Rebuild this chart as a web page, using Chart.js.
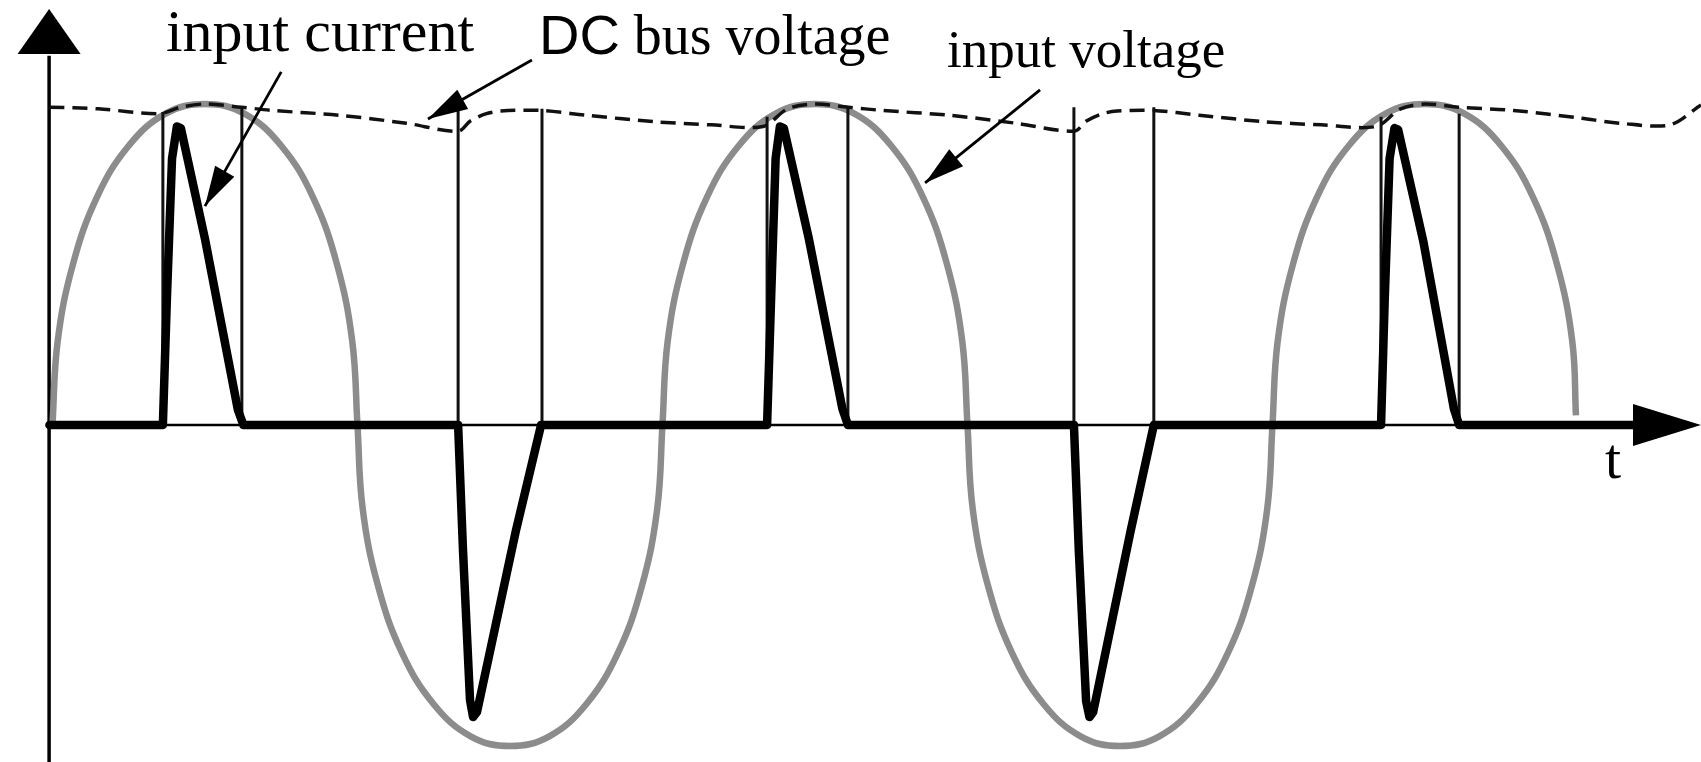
<!DOCTYPE html>
<html>
<head>
<meta charset="utf-8">
<title>Input current, input voltage and DC bus voltage</title>
<script src="https://cdn.jsdelivr.net/npm/chart.js@4.4.1/dist/chart.umd.min.js"></script>
<style>
    html, body { margin: 0; padding: 0; background: #ffffff; }
    #wrap { position: relative; width: 1701px; height: 762px; }
</style>
</head>
<body>
<div id="wrap"><canvas id="waveChart"></canvas></div>
<script>
// time in ms (20 ms mains period), amplitude relative to the input voltage peak
const voltageTime = [
    0, 0.17, 0.67, 1.46, 2.5, 3.71, 5, 6.29, 7.5, 8.54, 9.33, 9.83,
    10, 10.17, 10.67, 11.46, 12.5, 13.71, 15, 16.29, 17.5, 18.54, 19.33, 19.83,
    20, 20.17, 20.67, 21.46, 22.5, 23.71, 25, 26.29, 27.5, 28.54, 29.33, 29.83,
    30, 30.17, 30.67, 31.46, 32.5, 33.71, 35, 36.29, 37.5, 38.54, 39.33, 39.83,
    40, 40.17, 40.67, 41.46, 42.5, 43.71, 45, 46.29, 47.5, 48.54, 49.33, 49.83, 49.95
];
const voltageValue = [
    0, 0.26, 0.5, 0.71, 0.87, 0.97, 1, 0.97, 0.87, 0.71, 0.5, 0.26,
    0, -0.26, -0.5, -0.71, -0.87, -0.97, -1, -0.97, -0.87, -0.71, -0.5, -0.26,
    0, 0.26, 0.5, 0.71, 0.87, 0.97, 1, 0.97, 0.87, 0.71, 0.5, 0.26,
    0, -0.26, -0.5, -0.71, -0.87, -0.97, -1, -0.97, -0.87, -0.71, -0.5, -0.26,
    0, 0.26, 0.5, 0.71, 0.87, 0.97, 1, 0.97, 0.87, 0.71, 0.5, 0.26, 0.03
];

const currentTime = [
    -0.1,
    3.62, 3.75, 3.92, 4.08, 4.21, 5.0, 6.08, 6.26,
    13.3, 13.46, 13.69, 13.79, 13.92, 15.2, 16.02,
    23.43, 23.56, 23.71, 23.85, 23.98, 24.8, 25.9, 26.08,
    33.49, 33.65, 33.89, 34.0, 34.12, 35.35, 36.11,
    43.56, 43.68, 43.84, 44.0, 44.12, 44.95, 45.95, 46.12,
    51.82
];
const currentValue = [
    0,
    0, 0.39, 0.83, 0.93, 0.925, 0.58, 0.047, 0,
    0, -0.39, -0.857, -0.91, -0.894, -0.327, 0,
    0, 0.39, 0.83, 0.93, 0.925, 0.58, 0.05, 0,
    0, -0.39, -0.86, -0.91, -0.895, -0.33, 0,
    0, 0.39, 0.83, 0.925, 0.92, 0.57, 0.05, 0,
    0
];

const busTime = [
    -0.1, 1.5, 3.5, 4.2, 5.0, 6.2, 7.2, 9.4, 11.6, 13.3, 13.7, 14.2, 14.7, 16.0,
    17.5, 19.7, 21.6, 23.3, 24.1, 25.0, 26.1, 27.2, 29.4, 31.6, 33.5, 33.9, 34.4, 34.9, 36.1,
    37.6, 39.7, 41.6, 43.4, 44.2, 45.0, 46.1, 47.9, 50.1, 51.4, 53.03, 54.05
];
const busValue = [
    0.99, 0.985, 0.97, 0.99, 1.0, 0.99, 0.98, 0.965, 0.94, 0.915, 0.947, 0.969, 0.978, 0.98,
    0.965, 0.945, 0.935, 0.93, 0.985, 1.0, 0.99, 0.98, 0.965, 0.94, 0.915, 0.947, 0.969, 0.978, 0.98,
    0.965, 0.945, 0.935, 0.93, 0.985, 1.0, 0.99, 0.98, 0.956, 0.94, 0.935, 0.997
];

// conduction interval edges (thin vertical lines) and how high each reaches
const edgeTime = [3.62, 6.21, 13.3, 16.05, 23.43, 26.08, 33.49, 36.11, 43.56, 46.12];
const edgeTop = [0.975, 0.99, 0.99, 0.985, 0.96, 0.99, 0.99, 0.99, 0.96, 0.97];

const axisLabel = "t";

const serif = "'Liberation Serif', 'Times New Roman', serif";
const sans = "'Liberation Sans', Arial, sans-serif";

// callout texts with their leader arrows, positioned in data units
const callouts = [
    {
        parts: [{ text: "input current", font: `60px ${serif}` }],
        at: [3.72, 1.165],
        from: [7.5, 1.1],
        to: [5.0, 0.682]
    },
    {
        parts: [
            { text: "DC", font: `56px ${sans}` },
            { text: " bus voltage", font: `56px ${serif}` }
        ],
        at: [15.95, 1.156],
        from: [15.72, 1.137],
        to: [12.31, 0.953]
    },
    {
        parts: [{ text: "input voltage", font: `53px ${serif}` }],
        at: [29.33, 1.115],
        from: [32.38, 1.044],
        to: [28.61, 0.754]
    }
];

const toPoints = (xs, ys) => xs.map((x, i) => ({ x, y: ys[i] }));

const edgePoints = [];
edgeTime.forEach((t, i) => {
    edgePoints.push({ x: t, y: 0 }, { x: t, y: edgeTop[i] }, { x: t, y: null });
});

function arrowHead(ctx, x1, y1, x2, y2, len, half) {
    const a = Math.atan2(y2 - y1, x2 - x1);
    const bx = x2 - len * Math.cos(a);
    const by = y2 - len * Math.sin(a);
    ctx.beginPath();
    ctx.moveTo(x2, y2);
    ctx.lineTo(bx + half * Math.sin(a), by - half * Math.cos(a));
    ctx.lineTo(bx - half * Math.sin(a), by + half * Math.cos(a));
    ctx.closePath();
    ctx.fill();
}

const sketchAxes = {
    id: "sketchAxes",
    beforeDatasetsDraw(chart) {
        const { ctx, scales: { x, y } } = chart;
        const ox = x.getPixelForValue(-0.11);
        const oy = y.getPixelForValue(0);
        ctx.save();
        ctx.strokeStyle = "#000";
        ctx.fillStyle = "#000";

        // time axis
        ctx.lineWidth = 2.5;
        ctx.beginPath();
        ctx.moveTo(ox, oy);
        ctx.lineTo(x.getPixelForValue(51.9), oy);
        ctx.stroke();
        arrowHead(ctx, ox, oy, x.getPixelForValue(54.05), oy, 68, 21);

        // vertical axis
        ctx.lineWidth = 3.5;
        ctx.beginPath();
        ctx.moveTo(ox, y.getPixelForValue(-1.05));
        ctx.lineTo(ox, y.getPixelForValue(1.15));
        ctx.stroke();
        arrowHead(ctx, ox, oy, ox, y.getPixelForValue(1.296), 45, 31.5);
        ctx.restore();
    },
    afterDatasetsDraw(chart) {
        const { ctx, scales: { x, y } } = chart;
        ctx.save();
        ctx.fillStyle = "#000";
        ctx.strokeStyle = "#000";
        ctx.textBaseline = "alphabetic";
        ctx.textAlign = "left";

        callouts.forEach((c) => {
            let tx = x.getPixelForValue(c.at[0]);
            const ty = y.getPixelForValue(c.at[1]);
            c.parts.forEach((p) => {
                ctx.font = p.font;
                ctx.fillText(p.text, tx, ty);
                tx += ctx.measureText(p.text).width;
            });

            const x1 = x.getPixelForValue(c.from[0]);
            const y1 = y.getPixelForValue(c.from[1]);
            const x2 = x.getPixelForValue(c.to[0]);
            const y2 = y.getPixelForValue(c.to[1]);
            ctx.lineWidth = 2.8;
            ctx.beginPath();
            ctx.moveTo(x1, y1);
            ctx.lineTo(x2, y2);
            ctx.stroke();
            arrowHead(ctx, x1, y1, x2, y2, 40, 11);
        });

        ctx.font = `58px ${serif}`;
        ctx.fillText(axisLabel, x.getPixelForValue(50.9), y.getPixelForValue(-0.165));
        ctx.restore();
    }
};

const waveChart = new Chart(document.getElementById("waveChart"), {
    type: "line",

    data: {
        datasets: [
            {
                label: "input current",
                data: toPoints(currentTime, currentValue),
                borderColor: "#000000",
                borderWidth: 8.5,
                borderJoinStyle: "round",
                borderCapStyle: "round",
                tension: 0,
                order: 1
            },
            {
                label: "conduction edges",
                data: edgePoints,
                borderColor: "#111111",
                borderWidth: 3,
                spanGaps: false,
                tension: 0,
                order: 2
            },
            {
                label: "DC bus voltage",
                data: toPoints(busTime, busValue),
                borderColor: "#111111",
                borderWidth: 3.5,
                borderDash: [15, 8],
                tension: 0.3,
                order: 3
            },
            {
                label: "input voltage",
                data: toPoints(voltageTime, voltageValue),
                borderColor: "#8c8c8c",
                borderWidth: 6.5,
                tension: 0.4,
                order: 4
            }
        ]
    },

    options: {
        responsive: true,
        maintainAspectRatio: false,
        animation: false,
        layout: { padding: 0 },
        elements: { point: { radius: 0, hoverRadius: 0 } },

        plugins: {
            legend: { display: false },
            tooltip: { enabled: false }
        },

        scales: {
            x: { type: "linear", min: -1.72, max: 54.05, display: false },
            y: { type: "linear", min: -1.05, max: 1.324, display: false }
        }
    },

    plugins: [sketchAxes]
});
</script>
</body>
</html>
